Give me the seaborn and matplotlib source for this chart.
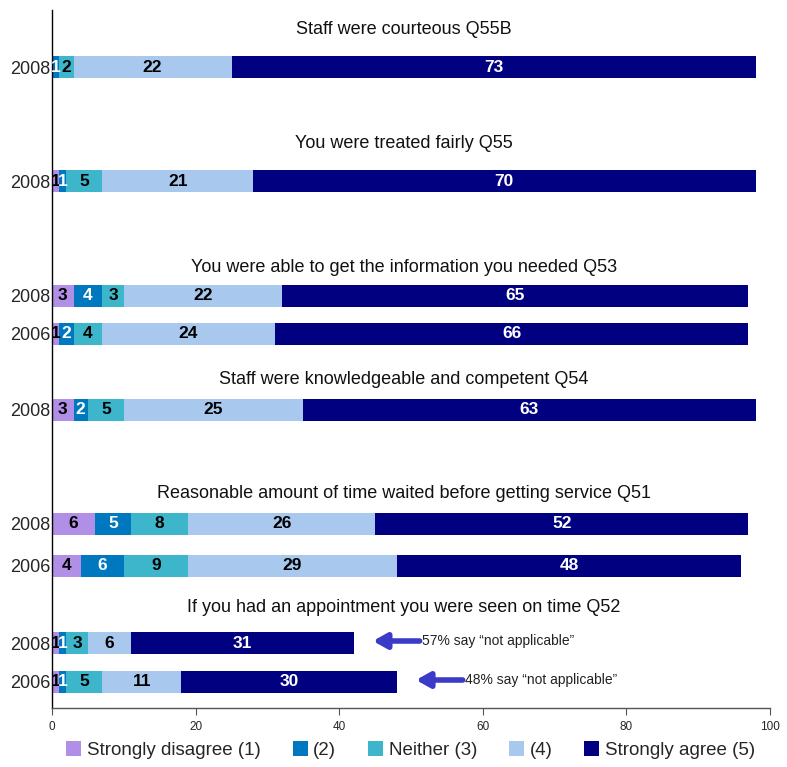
import matplotlib
matplotlib.use("Agg")
import matplotlib.pyplot as plt
from matplotlib.patches import Patch
import numpy as np
import pandas as pd
import seaborn as sns

# Survey items and the year of each bar row
questions = [
    "Staff were courteous Q55B",
    "You were treated fairly Q55",
    "You were able to get the information you needed Q53",
    "Staff were knowledgeable and competent Q54",
    "Reasonable amount of time waited before getting service Q51",
    "If you had an appointment you were seen on time Q52",
]
years = ["2008", "2008", "2008", "2006", "2008", "2008", "2006", "2008", "2006"]

# Percentage of responses in each agreement level
strongly_disagree = [0, 1, 3, 1, 3, 6, 4, 1, 1]
level_2 = [1, 1, 4, 2, 2, 5, 6, 1, 1]
neither = [2, 5, 3, 4, 5, 8, 9, 3, 5]
level_4 = [22, 21, 22, 24, 25, 26, 29, 6, 11]
strongly_agree = [73, 70, 65, 66, 63, 52, 48, 31, 30]

level_names = ["Strongly disagree (1)", "(2)", "Neither (3)", "(4)", "Strongly agree (5)"]
not_applicable = {7: 57, 8: 48}

# Layout (vertical axis units, top to bottom)
row_y = [67, 181, 296, 334, 410, 524, 566, 643, 682]
title_y = [30, 143, 268, 380, 493, 608]

colors = ["#b18fe6", "#0078c0", "#3db6cc", "#a9c8ee", "#000080"]
text_colors = ["black", "white", "black", "black", "white"]

sns.set_style("white")
plt.rcParams["font.family"] = ["Liberation Sans", "DejaVu Sans"]

levels = [strongly_disagree, level_2, neither, level_4, strongly_agree]
values = np.array(levels, dtype=float)
cum = np.cumsum(values, axis=0)

fig = plt.figure(figsize=(7.87, 7.67), dpi=100)
ax = fig.add_axes([52 / 787, 1 - 708 / 767, (770 - 52) / 787, (708 - 10) / 767])

# Stacked bars: draw cumulative totals from the widest down
for k in range(len(levels) - 1, -1, -1):
    df = pd.DataFrame({"total": cum[k], "pos": row_y})
    sns.barplot(data=df, x="total", y="pos", orient="h", native_scale=True,
                color=colors[k], width=22 / 38, linewidth=0, saturation=1,
                errorbar=None, ax=ax)

# Segment value labels
for k in range(len(levels)):
    for i, y in enumerate(row_y):
        v = levels[k][i]
        if v <= 0:
            continue
        xc = cum[k][i] - v / 2
        ax.text(xc, y, f"{v:g}", ha="center", va="center", fontsize=12.5,
                fontweight="bold", color=text_colors[k])

# Question titles
for q, ty in zip(questions, title_y):
    ax.text(49, ty, q, ha="center", va="center", fontsize=13, color="#111111")

# Not-applicable notes with arrows
for i, pct in not_applicable.items():
    end = cum[-1][i]
    ax.annotate("", xy=(end + 2.7, row_y[i] - 2), xytext=(end + 9.2, row_y[i] - 2),
                arrowprops=dict(arrowstyle="-|>,head_length=0.8,head_width=0.45",
                                color="#3b3bc8", lw=4, shrinkA=0, shrinkB=0))
    ax.text(end + 9.5, row_y[i] - 2, f"{pct}% say \u201cnot applicable\u201d",
            ha="left", va="center", fontsize=10, color="#222222")

ax.set_xlim(0, 100)
ax.set_ylim(708, 10)
ax.set_xticks(np.arange(0, 101, 20))
ax.set_xticklabels([str(t) for t in range(0, 101, 20)], fontsize=8.5)
ax.set_yticks(row_y)
ax.set_yticklabels(years, fontsize=13)
ax.set_xlabel("")
ax.set_ylabel("")
ax.tick_params(axis="y", length=0, pad=1)
ax.tick_params(axis="x", length=5, width=0.8, color="#555555", direction="out",
               pad=4, bottom=True)
for side in ["top", "right"]:
    ax.spines[side].set_visible(False)
ax.spines["left"].set_color("black")
ax.spines["left"].set_linewidth(1)
ax.spines["bottom"].set_color("#555555")
ax.spines["bottom"].set_linewidth(1)

handles = [Patch(facecolor=c, edgecolor="none", label=n) for c, n in zip(colors, level_names)]
fig.legend(handles=handles, loc="center", bbox_to_anchor=(0.522, 0.022), ncol=5,
           frameon=False, fontsize=13.5, handlelength=0.8, handleheight=0.8,
           handletextpad=0.3, columnspacing=1.7)

fig.savefig("out.png", dpi=100)
